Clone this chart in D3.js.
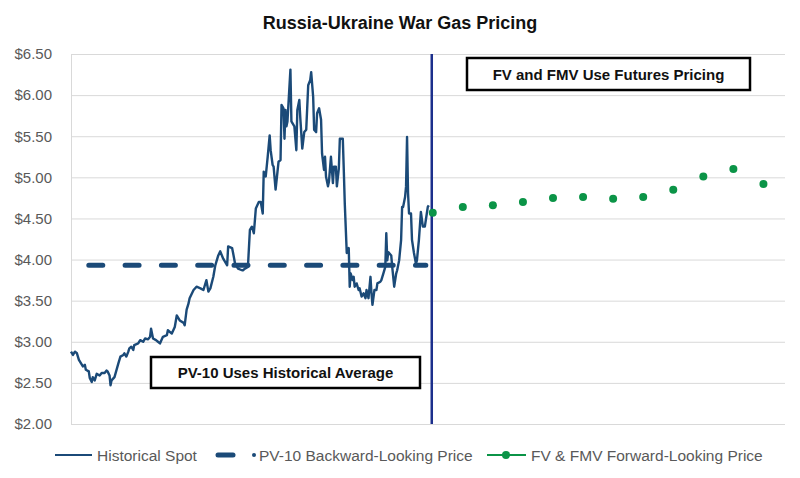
<!DOCTYPE html>
<html>
<head>
<meta charset="utf-8">
<script src="https://cdn.jsdelivr.net/npm/d3@7"></script>
<style>
  body { margin: 0; background: #fff; }
  svg { display: block; font-family: "Liberation Sans", Arial, sans-serif; }
</style>
</head>
<body>
<svg id="chart" width="800" height="478"></svg>
<script>
// historical spot: day offset within the look-back year, $/MMBtu
const spotDay = [0,2,4,6,8,10,12,14,15,18,19,21,22,24,26,29,31,34,36,37,39,40,41,44,48,50,53,54,56,58,
  59,61,63,64,68,70,73,75,78,80,81,83,86,88,90,93,97,98,102,105,107,110,114,115,117,119,120,124,127,131,
  134,137,139,141,144,146,149,151,154,158,159,163,164,166,169,173,174,176,179,181,183,185,187,190,192,194,195,197,199,201,
  202,204,205,207,210,212,213,215,216,217,218,219,222,223,226,228,229,231,232,234,236,238,240,242,243,245,246,248,249,251,
  253,254,256,257,258,260,261,263,265,266,268,269,271,272,275,276,277,279,281,282,283,285,286,287,289,291,292,294,296,298,
  299,301,303,304,305,307,309,310,313,314,316,318,319,320,321,324,325,327,329,330,332,334,335,336,338,339,340,341,342,344,
  345,347,349,350,352,354,356,358,360,361,362];
const spotPrice = [2.88,2.84,2.88,2.86,2.78,2.74,2.70,2.72,2.66,2.64,2.56,2.51,2.57,2.53,2.61,2.59,2.62,2.62,2.65,2.64,
  2.59,2.47,2.53,2.57,2.74,2.82,2.84,2.86,2.82,2.88,2.92,2.94,2.90,2.96,2.98,3.02,3.00,3.04,3.03,3.06,
  3.16,3.04,3.02,3.00,2.98,3.06,3.08,3.14,3.10,3.18,3.32,3.26,3.23,3.20,3.39,3.47,3.53,3.63,3.67,3.65,
  3.63,3.75,3.61,3.65,3.79,3.93,4.05,4.10,4.01,3.93,4.16,4.14,4.08,3.95,3.89,3.87,3.87,3.89,3.91,4.36,
  4.40,4.32,4.62,4.70,4.70,4.56,5.07,5.01,5.25,5.51,5.33,5.15,5.13,4.85,5.19,5.21,5.88,5.84,5.47,5.82,
  5.62,5.68,6.31,5.68,5.62,5.33,5.82,5.94,5.72,5.35,5.55,5.58,6.12,6.18,6.28,5.98,5.58,5.55,5.78,5.84,
  5.70,5.29,5.09,5.25,5.01,4.89,4.95,5.25,4.93,5.13,5.13,4.89,5.11,5.47,5.47,5.09,4.68,4.08,4.14,3.67,
  3.83,3.75,3.79,3.67,3.71,3.63,3.65,3.55,3.59,3.53,3.63,3.53,3.79,3.59,3.45,3.63,3.63,3.71,3.73,3.75,
  3.83,3.91,4.32,3.99,4.09,4.05,3.91,3.67,3.83,3.87,3.99,4.24,4.64,4.64,4.76,4.89,5.49,4.81,4.56,4.56,
  4.24,4.08,3.95,3.99,4.24,4.58,4.40,4.40,4.56,4.64,4.66];

// PV-10 flat historical average
const pv10Average = 3.93;
const pv10Days = [18, 359];

// forward strip, months ahead
const forwardMonth = [0,1,2,3,4,5,6,7,8,9,10,11];
const forwardPrice = [4.57,4.64,4.66,4.70,4.75,4.76,4.74,4.76,4.85,5.01,5.10,4.92];

const yTicks = [2.0,2.5,3.0,3.5,4.0,4.5,5.0,5.5,6.0,6.5];
const legendLabels = ["Historical Spot", "PV-10 Backward-Looking Price", "FV & FMV Forward-Looking Price"];

const NAVY = "#1b4a78";
const DIVIDER = "#1c2f8c";
const GREEN = "#0b9447";

const svg = d3.select("#chart");
const plot = { left: 71, right: 785, top: 54, bottom: 424 };

const x = d3.scaleLinear().domain([-12, 11.75]).range([plot.left, plot.right]);
const y = d3.scaleLinear().domain([2, 6.5]).range([plot.bottom, plot.top]);
const dayToMonth = d => d / 365 * 12 - 12;

// title
svg.append("text")
  .attr("x", 400).attr("y", 29)
  .attr("text-anchor", "middle")
  .style("font-size", "18px").style("font-weight", "bold").style("fill", "#111")
  .text("Russia-Ukraine War Gas Pricing");

// grid + y axis
const yAxis = d3.axisLeft(y)
  .tickValues(yTicks)
  .tickSize(-(plot.right - plot.left))
  .tickPadding(19)
  .tickFormat(d3.format("$.2f"));

svg.append("g")
  .attr("transform", `translate(${plot.left},0)`)
  .call(yAxis)
  .call(g => g.select(".domain").attr("stroke", "#d9d9d9"))
  .call(g => g.selectAll(".tick line").attr("stroke", "#d9d9d9"))
  .call(g => g.selectAll(".tick text")
    .style("font-size", "15px").style("fill", "#595959")
    .style("font-family", "'Liberation Sans', Arial, sans-serif"));

// divider between history and forward strip
svg.append("line")
  .attr("x1", x(0)).attr("x2", x(0))
  .attr("y1", plot.top).attr("y2", plot.bottom)
  .attr("stroke", DIVIDER).attr("stroke-width", 2.5);

// PV-10 average dashes
svg.append("line")
  .attr("x1", x(dayToMonth(pv10Days[0]))).attr("x2", x(dayToMonth(pv10Days[1])))
  .attr("y1", y(pv10Average)).attr("y2", y(pv10Average))
  .attr("stroke", NAVY).attr("stroke-width", 5)
  .attr("stroke-linecap", "round")
  .attr("stroke-dasharray", "14 22.3");

// spot line
const spotLine = d3.line()
  .x(d => x(dayToMonth(d[0])))
  .y(d => y(d[1]));

svg.append("path")
  .datum(d3.zip(spotDay, spotPrice))
  .attr("d", spotLine)
  .attr("fill", "none")
  .attr("stroke", NAVY)
  .attr("stroke-width", 2.4)
  .attr("stroke-linejoin", "round");

// forward dots
svg.selectAll("circle.fwd")
  .data(d3.zip(forwardMonth, forwardPrice))
  .enter()
  .append("circle")
    .attr("class", "fwd")
    .attr("cx", d => x(d[0]) + 1)
    .attr("cy", d => y(d[1]))
    .attr("r", 4)
    .attr("fill", GREEN);

// callout boxes
const callout = (x0, y0, w, h, label) => {
  svg.append("rect")
    .attr("x", x0).attr("y", y0).attr("width", w).attr("height", h)
    .attr("fill", "#fff").attr("stroke", "#000").attr("stroke-width", 2.5);
  svg.append("text")
    .attr("x", x0 + w / 2).attr("y", y0 + h / 2 + 5.5)
    .attr("text-anchor", "middle")
    .style("font-size", "15px").style("font-weight", "bold").style("fill", "#111")
    .text(label);
};
callout(467, 58, 283, 32, "FV and FMV Use Futures Pricing");
callout(151, 357, 269, 31, "PV-10 Uses Historical Average");

// legend
const legend = svg.append("g").attr("class", "legend")
  .style("font-family", "'Liberation Sans', Arial, sans-serif")
  .style("font-size", "15.5px").style("fill", "#595959");
const ly = 455;

legend.append("line")
  .attr("x1", 55).attr("x2", 92).attr("y1", ly).attr("y2", ly)
  .attr("stroke", NAVY).attr("stroke-width", 2.2);
legend.append("text").attr("x", 97).attr("y", ly + 5.5).text(legendLabels[0]);

legend.append("line")
  .attr("x1", 218).attr("x2", 233).attr("y1", ly).attr("y2", ly)
  .attr("stroke", NAVY).attr("stroke-width", 5).attr("stroke-linecap", "round");
legend.append("circle").attr("cx", 254).attr("cy", ly).attr("r", 2).attr("fill", NAVY);
legend.append("text").attr("x", 259).attr("y", ly + 5.5).text(legendLabels[1]);

legend.append("line")
  .attr("x1", 487).attr("x2", 526).attr("y1", ly).attr("y2", ly)
  .attr("stroke", GREEN).attr("stroke-width", 2.2);
legend.append("circle").attr("cx", 506).attr("cy", ly).attr("r", 4).attr("fill", GREEN);
legend.append("text").attr("x", 531).attr("y", ly + 5.5).text(legendLabels[2]);
</script>
</body>
</html>
